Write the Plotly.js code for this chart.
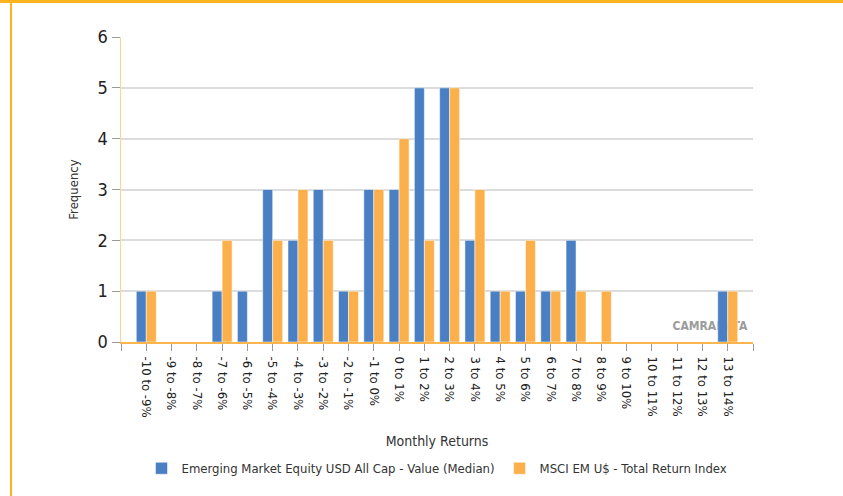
<!DOCTYPE html>
<html>
<head>
<meta charset="utf-8">
<script src="https://cdn.plot.ly/plotly-3.0.1.min.js"></script>
<style>
  html, body { margin: 0; padding: 0; background: #fff; }
  #wrap { position: relative; width: 843px; height: 496px; overflow: hidden; }
  #topline { position: absolute; left: 0; top: 0; width: 843px; height: 3px; background: #fdb31e; z-index: 2; }
  #leftline { position: absolute; left: 10px; top: 0; width: 2px; height: 496px; background: #fdb31e; z-index: 2; }
  #chart { position: absolute; left: 0; top: 0; width: 843px; height: 496px; }
</style>
</head>
<body>
<div id="wrap">
  <div id="chart"></div>
  <div id="topline"></div>
  <div id="leftline"></div>
</div>
<script>
const categories = ["-10 to -9%", "-9 to -8%", "-8 to -7%", "-7 to -6%", "-6 to -5%", "-5 to -4%",
  "-4 to -3%", "-3 to -2%", "-2 to -1%", "-1 to 0%", "0 to 1%", "1 to 2%", "2 to 3%", "3 to 4%",
  "4 to 5%", "5 to 6%", "6 to 7%", "7 to 8%", "8 to 9%", "9 to 10%", "10 to 11%", "11 to 12%",
  "12 to 13%", "13 to 14%"];
const fundValues =  [1, 0, 0, 1, 1, 3, 2, 3, 1, 3, 3, 5, 5, 2, 1, 1, 1, 2, 0, 0, 0, 0, 0, 1];
const indexValues = [1, 0, 0, 2, 0, 2, 3, 2, 1, 3, 4, 2, 5, 3, 1, 2, 1, 1, 1, 0, 0, 0, 0, 1];
const seriesNames = ["Emerging Market Equity USD All Cap - Value (Median)", "MSCI EM U$ - Total Return Index"];
const yTicks = [0, 1, 2, 3, 4, 5, 6];
const xTitle = "Monthly Returns";
const yTitle = "Frequency";
const watermark = "CAMRADATA";

const idx = categories.map((c, i) => i);
const tickvals = [-1].concat(idx, [categories.length]);
const ticktext = [""].concat(categories, [""]);

const fontFam = '"Liberation Sans Narrow", "DejaVu Sans Condensed", "Arial Narrow", "Liberation Sans", Arial, sans-serif';

const traces = [
  {
    type: "bar", x: [categories.length - 2], y: [0.62], width: [3.2], offset: [-1.29],
    text: [watermark], textposition: "inside", insidetextanchor: "middle",
    constraintext: "none", textangle: 0, cliponaxis: false,
    insidetextfont: { family: '"DejaVu Sans Condensed", "Liberation Sans", Arial, sans-serif', size: 12, color: "#9c9c9c", weight: "bold" },
    marker: { color: "rgba(0,0,0,0)" }, hoverinfo: "skip", showlegend: false,
    alignmentgroup: "wm", offsetgroup: "wm"
  },
  {
    type: "bar", name: seriesNames[0], x: idx, y: fundValues,
    marker: { color: "#4a80c3", line: { color: "#ffffff", width: 0.5 } },
    alignmentgroup: "main", offsetgroup: "a"
  },
  {
    type: "bar", name: seriesNames[1], x: idx, y: indexValues,
    marker: { color: "#fbb04b", line: { color: "#ffffff", width: 0.5 } },
    alignmentgroup: "main", offsetgroup: "b"
  }
];

const layout = {
  width: 843, height: 496,
  margin: { l: 121, r: 90, t: 37, b: 148 },
  paper_bgcolor: "#ffffff", plot_bgcolor: "#ffffff",
  barmode: "group", bargap: 0.21, bargroupgap: 0,
  font: { family: fontFam, color: "#333333" },
  showlegend: true,
  legend: {
    orientation: "h", x: 0.5, xanchor: "center", y: -0.365, yanchor: "top",
    font: { family: fontFam, size: 13, color: "#333333" },
    traceorder: "normal", itemwidth: 30
  },
  xaxis: {
    range: [-1, categories.length], tickmode: "array", tickvals: tickvals, ticktext: ticktext,
    tickangle: 90, tickfont: { family: fontFam, size: 13, color: "#222222" },
    ticks: "outside", ticklen: 7, tickcolor: "#9a9a9a", tickwidth: 1, ticklabelstandoff: 3,
    showline: true, linecolor: "#fbb54e", linewidth: 2,
    showgrid: false, zeroline: false, fixedrange: true,
    title: { text: xTitle, font: { family: fontFam, size: 14, color: "#333333" }, standoff: 20 }
  },
  yaxis: {
    range: [0, 6], tickmode: "array", tickvals: yTicks,
    tickfont: { family: fontFam, size: 18, color: "#222222" },
    ticks: "outside", ticklen: 8, tickcolor: "#9a9a9a", tickwidth: 1,
    showline: true, linecolor: "#fdd488", linewidth: 1.5,
    showgrid: true, gridcolor: "#dcdcdc", gridwidth: 2,
    zeroline: false, fixedrange: true,
    title: { text: yTitle, font: { family: fontFam, size: 13, color: "#333333" }, standoff: 16 }
  }
};

Plotly.newPlot("chart", traces, layout, { staticPlot: true, displayModeBar: false });
</script>
</body>
</html>
